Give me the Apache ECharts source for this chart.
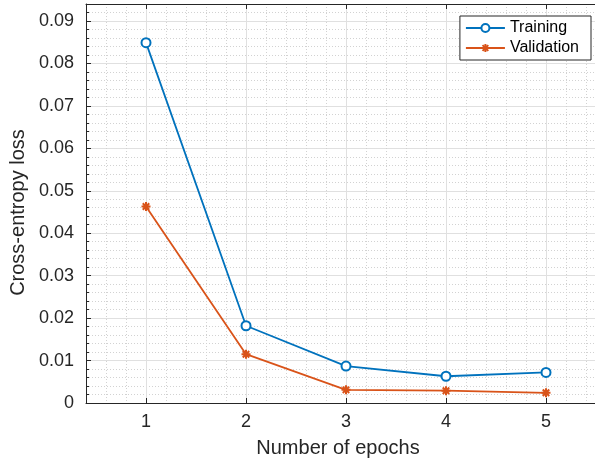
<!DOCTYPE html>
<html>
<head>
<meta charset="utf-8">
<script src="https://cdn.jsdelivr.net/npm/echarts@6/dist/echarts.min.js"></script>
<style>
  html, body { margin: 0; padding: 0; background: #fff; }
  #chart { width: 595px; height: 463px; }
</style>
</head>
<body>
<div id="chart"></div>
<script>
// Loss per training epoch
const epochs = [1, 2, 3, 4, 5];
const trainingLoss = [0.0849, 0.0182, 0.0087, 0.0063, 0.0072];
const validationLoss = [0.0463, 0.0115, 0.0031, 0.0029, 0.0024];
const seriesNames = ['Training', 'Validation'];
const xLabel = 'Number of epochs';
const yLabel = 'Cross-entropy loss';

const FONT = '"Liberation Sans", Arial, Helvetica, sans-serif';
const AXIS = '#262626';
const GRID_MAJOR = '#e0e0e0';
const GRID_MINOR = '#d2d2d2';
const BLUE = '#0072BD';
const ORANGE = '#D95319';

const pairs = ys => epochs.map((x, i) => [x, ys[i]]);

// asterisk marker: plus and cross strokes
const asterisk = 'path://M0,-5L0,5M-5,0L5,0M-3.6,-3.6L3.6,3.6M-3.6,3.6L3.6,-3.6';

const chart = echarts.init(document.getElementById('chart'), null, { renderer: 'canvas' });

const xCommon = {
  type: 'value',
  min: 0.4,
  max: 5.6,
  minInterval: 1,
  maxInterval: 1
};

chart.setOption({
  animation: false,
  backgroundColor: '#fff',
  grid: { left: 86, top: 4, width: 520, height: 399, containLabel: false, outerBoundsMode: 'none' },
  xAxis: [
    Object.assign({}, xCommon, {
      position: 'bottom',
      axisLine: { show: true, onZero: false, lineStyle: { color: AXIS, width: 1 } },
      axisTick: { show: true, inside: true, length: 5, lineStyle: { color: AXIS } },
      axisLabel: {
        color: AXIS, fontSize: 18, fontFamily: FONT, margin: 10,
        showMinLabel: false, showMaxLabel: false,
        formatter: v => (Math.abs(v - Math.round(v)) < 1e-9 ? String(Math.round(v)) : '')
      },
      splitLine: { show: true, lineStyle: { color: GRID_MAJOR, width: 1 } },
      minorTick: { show: false, splitNumber: 5 },
      minorSplitLine: { show: true, lineStyle: { color: GRID_MINOR, width: 1, type: [1, 2] } },
      name: xLabel,
      nameLocation: 'middle',
      nameGap: 35,
      nameTextStyle: { color: AXIS, fontSize: 20, fontFamily: FONT, padding: [0, 16, 0, 0] }
    }),
    Object.assign({}, xCommon, {
      position: 'top',
      axisLine: { show: true, onZero: false, lineStyle: { color: AXIS, width: 1 } },
      axisTick: { show: true, inside: true, length: 5, lineStyle: { color: AXIS } },
      axisLabel: { show: false },
      splitLine: { show: false }
    })
  ],
  yAxis: [{
    type: 'value',
    min: 0,
    max: 0.094,
    interval: 0.01,
    axisLine: { show: true, onZero: false, lineStyle: { color: AXIS, width: 1 } },
    axisTick: { show: true, inside: true, length: 5, lineStyle: { color: AXIS } },
    minorTick: { show: true, splitNumber: 5, length: 3, lineStyle: { color: AXIS } },
    axisLabel: {
      color: AXIS, fontSize: 18, fontFamily: FONT, margin: 12,
      showMaxLabel: false,
      formatter: v => {
        const k = Math.round(v * 100);
        if (Math.abs(v * 100 - k) > 1e-6) return '';
        return k === 0 ? '0' : v.toFixed(2);
      }
    },
    splitLine: { show: true, lineStyle: { color: GRID_MAJOR, width: 1 } },
    minorSplitLine: { show: true, lineStyle: { color: GRID_MINOR, width: 1, type: [1, 2] } },
    name: yLabel,
    nameLocation: 'middle',
    nameGap: 44,
    nameTextStyle: { color: AXIS, fontSize: 20, fontFamily: FONT, padding: [0, 18, 0, 0] }
  }],
  legend: {
    orient: 'vertical',
    right: 4,
    top: 16,
    data: seriesNames,
    backgroundColor: '#fff',
    borderColor: AXIS,
    borderWidth: 1,
    borderRadius: 0,
    padding: [4, 12, 4, 5],
    itemGap: 4,
    itemWidth: 39,
    itemHeight: 10,
    textStyle: { fontSize: 16, fontFamily: FONT, color: '#000' }
  },
  series: [
    {
      name: seriesNames[0],
      type: 'line',
      xAxisIndex: 0,
      data: pairs(trainingLoss),
      symbol: 'emptyCircle',
      symbolSize: 9,
      showAllSymbol: true,
      lineStyle: { color: BLUE, width: 1.8 },
      itemStyle: { color: BLUE, borderColor: BLUE, borderWidth: 1.8 },
      emphasis: { disabled: true }
    },
    {
      name: seriesNames[1],
      type: 'line',
      xAxisIndex: 0,
      data: pairs(validationLoss),
      symbol: asterisk,
      symbolSize: 9,
      showAllSymbol: true,
      lineStyle: { color: ORANGE, width: 1.8 },
      itemStyle: { color: ORANGE, borderColor: ORANGE, borderWidth: 2 },
      emphasis: { disabled: true }
    }
  ]
});
</script>
</body>
</html>
